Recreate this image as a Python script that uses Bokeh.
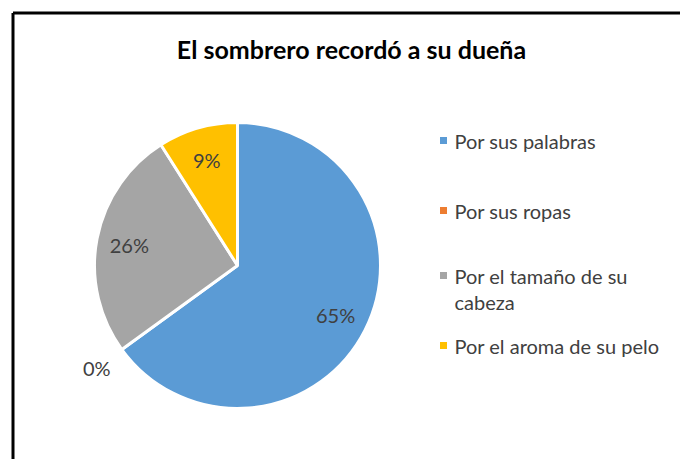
import math
from bokeh.plotting import figure
from bokeh.models import Range1d
from bokeh.core.properties import value
from bokeh.embed import file_html
from bokeh.resources import INLINE

# ---- data ----
title = "El sombrero recordó a su dueña"
categories = ["Por sus palabras", "Por sus ropas", "Por el tamaño de su\ncabeza", "Por el aroma de su pelo"]
percents = [65, 0, 26, 9]
colors = ["#5B9BD5", "#ED7D31", "#A5A5A5", "#FFC000"]

W, H = 680, 459
FONT = "Lato"

def px(x):  # image x -> data x
    return x

def py(y):  # image y -> data y
    return H - y

p = figure(width=W, height=H, output_backend="svg", toolbar_location=None,
           x_range=Range1d(0, W), y_range=Range1d(0, H), min_border=0)
p.axis.visible = False
p.grid.visible = False
p.outline_line_color = None
p.background_fill_color = "white"

# frame lines (top and left)
p.segment(x0=[px(12.5), px(12.5)], y0=[py(12.5), py(12.5)],
          x1=[px(700), px(12.5)], y1=[py(12.5), py(480)],
          line_color="black", line_width=3)

# title
p.text(x=[px(351)], y=[py(48)], text=[title], text_font=value(FONT),
       text_font_style="bold", text_font_size="25px", text_color="#000000",
       text_align="center", text_baseline="middle")

# pie
cx, cy, r = px(237), py(265), 143
total = float(sum(percents))
cum = 0.0
starts, ends, cols = [], [], []
label_x, label_y, label_t = [], [], []
for v, c in zip(percents, colors):
    a0 = math.pi / 2 - 2 * math.pi * cum / total
    a1 = math.pi / 2 - 2 * math.pi * (cum + v) / total
    mid = (a0 + a1) / 2
    if v > 0:
        starts.append(a0); ends.append(a1); cols.append(c)
        rl = 0.77 * r
    else:
        rl = r + 31
    label_x.append(cx + rl * math.cos(mid))
    label_y.append(cy + rl * math.sin(mid))
    label_t.append(f"{v}%")
    cum += v

p.wedge(x=cx, y=cy, radius=r, start_angle=starts, end_angle=ends,
        direction="clock", fill_color=cols, line_color="white", line_width=3)

p.text(x=label_x, y=label_y, text=label_t, text_font=value(FONT),
       text_font_size="20px", text_color="#404040",
       text_align="center", text_baseline="middle")

# legend
leg_rows_y = [140, 210, 275, 345]
p.scatter(x=[px(443)] * len(categories), y=[py(v) for v in leg_rows_y],
          marker="square", size=7, fill_color=colors, line_color=None)
p.text(x=[px(454)] * len(categories), y=[py(v - 12) for v in leg_rows_y],
       text=categories, text_font=value(FONT), text_font_size="20px",
       text_color="#404040", text_align="left", text_baseline="top",
       text_line_height=1.1)

open("out.html", "w").write(file_html(p, INLINE))
